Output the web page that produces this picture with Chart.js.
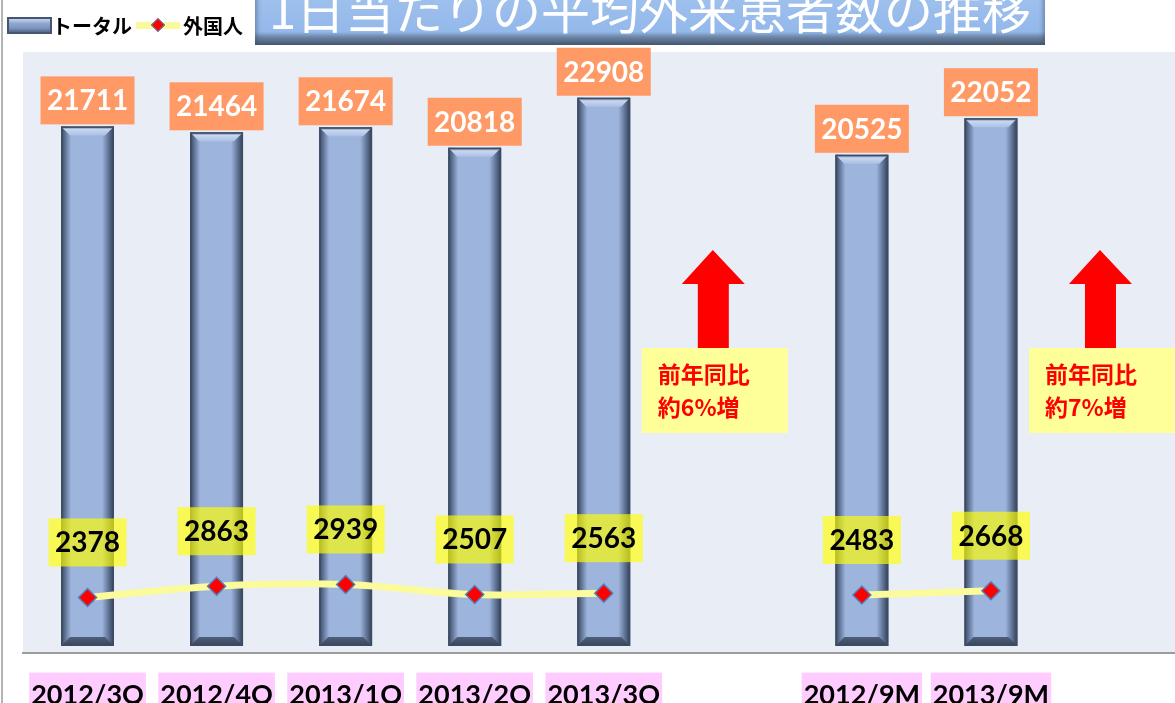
<!DOCTYPE html>
<html>
<head>
<meta charset="utf-8">
<script src="https://cdn.jsdelivr.net/npm/chart.js@4"></script>
<style>
  body { margin:0; width:1175px; height:703px; overflow:hidden; position:relative; background:#fff; }
  #wrap { position:absolute; left:0; top:0; width:1195px; height:737px; }
  #frame { position:absolute; left:1px; top:0; width:2px; height:703px; background:#b4b4b4; }
  #legend { position:absolute; left:7px; top:11px; display:flex; align-items:center;
            font:bold 20px "Noto Sans CJK JP"; color:#000; }
  .bar-icon { width:45px; height:17px; box-sizing:border-box; border:2px solid #46566f;
              background:linear-gradient(to bottom, #c2d3ee 0%, #8fa7cf 35%, #7d95bd 70%, #55698a 100%); }
  .line-icon { position:relative; width:44px; height:7px; margin:0 3px 0 4px; background:#fafa9c; }
  .line-icon i { position:absolute; left:17px; top:-2.5px; width:8px; height:8px; background:#ff0000;
                 border:1px solid #4f81bd; transform:rotate(45deg); }
  #title { position:absolute; left:255px; top:-15px; width:790px; height:60px; box-sizing:border-box;
           background:linear-gradient(to bottom, #a3c3ee 0%, #93b8ea 78%, #6c84a6 87%, #47586f 100%);
           box-shadow: inset 4px 0 4px -2px rgba(60,80,110,0.5), inset -4px 0 4px -2px rgba(60,80,110,0.5); }
  #title span { position:absolute; left:0; right:0; top:-2px; text-align:center; color:#fff;
                font:49px/49px "Noto Sans CJK JP"; }
</style>
</head>
<body>
<div id="wrap"><canvas id="c"></canvas></div>
<div id="frame"></div>
<div id="legend">
  <span class="bar-icon"></span><span>トータル</span>
  <span class="line-icon"><i></i></span><span>外国人</span>
</div>
<div id="title"><span>1日当たりの平均外来患者数の推移</span></div>
<script>
// categories (two empty slots hold the annotations)
const labels = ['2012/3Q', '2012/4Q', '2013/1Q', '2013/2Q', '2013/3Q', '', '2012/9M', '2013/9M', ''];
const totalValues = [21711, 21464, 21674, 20818, 22908, null, 20525, 22052, null];
const foreignValues = [2378, 2863, 2939, 2507, 2563, null, 2483, 2668, null];
const seriesNames = ['トータル', '外国人'];
const notes = [
  { slot: 5, lines: ['前年同比', '約6%増'] },
  { slot: 8, lines: ['前年同比', '約7%増'] }
];

const NUM_FONT = 'bold 28px Lato';
const JP_FONT = '"Noto Sans CJK JP"';

// plot background
const plotBg = {
  id: 'plotBg',
  beforeDraw(chart) {
    const { ctx, chartArea: a } = chart;
    ctx.save();
    ctx.fillStyle = '#e9edf5';
    ctx.fillRect(a.left, a.top, a.right - a.left, a.bottom - a.top);
    ctx.restore();
  }
};

// bevel look on the bars
const bevel = {
  id: 'bevel',
  afterDatasetDraw(chart, args) {
    if (args.index !== 0) return;
    const ctx = chart.ctx;
    const dark = 'rgba(35,50,75,';
    args.meta.data.forEach((bar, i) => {
      if (totalValues[i] == null) return;
      const l = bar.x - bar.width / 2, r = bar.x + bar.width / 2, t = bar.y, b = bar.base;
      ctx.save();
      let g = ctx.createLinearGradient(l, 0, l + 10, 0);
      g.addColorStop(0, dark + '0.85)'); g.addColorStop(1, dark + '0)');
      ctx.fillStyle = g; ctx.fillRect(l, t, 10, b - t);
      g = ctx.createLinearGradient(r, 0, r - 12, 0);
      g.addColorStop(0, dark + '0.9)'); g.addColorStop(1, dark + '0)');
      ctx.fillStyle = g; ctx.fillRect(r - 12, t, 12, b - t);
      // top bevel
      ctx.beginPath();
      ctx.moveTo(l, t); ctx.lineTo(r, t); ctx.lineTo(r - 9, t + 9); ctx.lineTo(l + 9, t + 9); ctx.closePath();
      g = ctx.createLinearGradient(0, t, 0, t + 9);
      g.addColorStop(0, 'rgba(90,110,145,1)'); g.addColorStop(0.35, 'rgba(200,215,240,1)'); g.addColorStop(1, 'rgba(170,192,228,1)');
      ctx.fillStyle = g; ctx.fill();
      // bottom bevel
      ctx.beginPath();
      ctx.moveTo(l, b); ctx.lineTo(r, b); ctx.lineTo(r - 9, b - 9); ctx.lineTo(l + 9, b - 9); ctx.closePath();
      g = ctx.createLinearGradient(0, b - 9, 0, b);
      g.addColorStop(0, 'rgba(80,96,124,1)'); g.addColorStop(1, 'rgba(55,68,90,1)');
      ctx.fillStyle = g; ctx.fill();
      ctx.strokeStyle = '#3e4c63'; ctx.lineWidth = 1.5;
      ctx.strokeRect(l + 0.75, t + 0.75, bar.width - 1.5, b - t - 1.5);
      ctx.restore();
    });
  }
};

// value boxes and the year-on-year notes
const valueBoxes = {
  id: 'valueBoxes',
  afterDatasetsDraw(chart) {
    const { ctx, chartArea: a, scales: { x } } = chart;
    ctx.save();
    ctx.textAlign = 'center';
    ctx.textBaseline = 'middle';
    ctx.font = NUM_FONT;
    chart.getDatasetMeta(0).data.forEach((bar, i) => {
      if (totalValues[i] == null) return;
      const cy = bar.y - 26;
      ctx.fillStyle = '#ff9966';
      ctx.fillRect(bar.x - 47, cy - 24, 94, 48);
      ctx.fillStyle = '#fff';
      ctx.fillText(String(totalValues[i]), bar.x, cy + 1);
    });
    chart.getDatasetMeta(1).data.forEach((pt, i) => {
      if (foreignValues[i] == null) return;
      const cy = pt.y - 55;
      ctx.fillStyle = 'rgba(255,255,0,0.66)';
      ctx.fillRect(pt.x - 39, cy - 24, 78, 48);
      ctx.fillStyle = '#000';
      ctx.fillText(String(foreignValues[i]), pt.x, cy + 1);
    });
    notes.forEach(n => {
      const cx = x.getPixelForValue(n.slot) - 20;
      const top = a.top + 198;
      ctx.fillStyle = '#ff0000';
      ctx.beginPath();
      ctx.moveTo(cx, top);
      ctx.lineTo(cx + 32, top + 34);
      ctx.lineTo(cx + 16, top + 34);
      ctx.lineTo(cx + 16, top + 98);
      ctx.lineTo(cx - 15, top + 98);
      ctx.lineTo(cx - 15, top + 34);
      ctx.lineTo(cx - 31, top + 34);
      ctx.closePath();
      ctx.fill();
      const bx = cx - 71, by = top + 98;
      ctx.fillStyle = '#ffff99';
      ctx.fillRect(bx, by, 146, 85);
      ctx.fillStyle = '#ff0000';
      ctx.font = 'bold 23px ' + JP_FONT;
      ctx.textAlign = 'left';
      ctx.fillText(n.lines[0], bx + 16, by + 26);
      ctx.fillText(n.lines[1], bx + 16, by + 59);
    });
    ctx.restore();
  }
};

new Chart(document.getElementById('c'), {
  type: 'bar',
  data: {
    labels: labels,
    datasets: [{
      label: seriesNames[0],
      data: totalValues,
      backgroundColor: '#9db4dd',
      borderWidth: 0,
      barPercentage: 0.41,
      categoryPercentage: 1,
      yAxisID: 'y',
      order: 2
    }, {
      label: seriesNames[1],
      type: 'line',
      data: foreignValues,
      borderColor: '#fbfb9c',
      borderWidth: 7,
      tension: 0.35,
      spanGaps: false,
      pointStyle: 'rectRot',
      pointRadius: 9,
      pointBackgroundColor: '#ff0000',
      pointBorderColor: '#4f81bd',
      pointBorderWidth: 1.5,
      yAxisID: 'y1',
      order: 1
    }]
  },
  options: {
    responsive: true,
    maintainAspectRatio: false,
    animation: false,
    layout: { padding: { left: 23, top: 52, right: 8, bottom: 0 } },
    plugins: { legend: { display: false }, tooltip: { enabled: false } },
    scales: {
      x: {
        grid: { display: true, drawOnChartArea: false, drawTicks: false },
        border: { display: true, color: '#9c9c9c', width: 2 },
        ticks: {
          autoSkip: false, maxRotation: 0, padding: 26,
          color: '#000',
          font: { family: 'Lato', size: 27, weight: 'bold' },
          showLabelBackdrop: ctx => !!labels[ctx.index],
          backdropColor: '#ffccff',
          backdropPadding: { top: 6, bottom: 6, left: 2, right: 2 }
        }
      },
      y: { display: false, min: -280, max: 24820 },
      y1: { display: false, min: 0, max: 25900 }
    }
  },
  plugins: [plotBg, bevel, valueBoxes]
});
</script>
</body>
</html>
